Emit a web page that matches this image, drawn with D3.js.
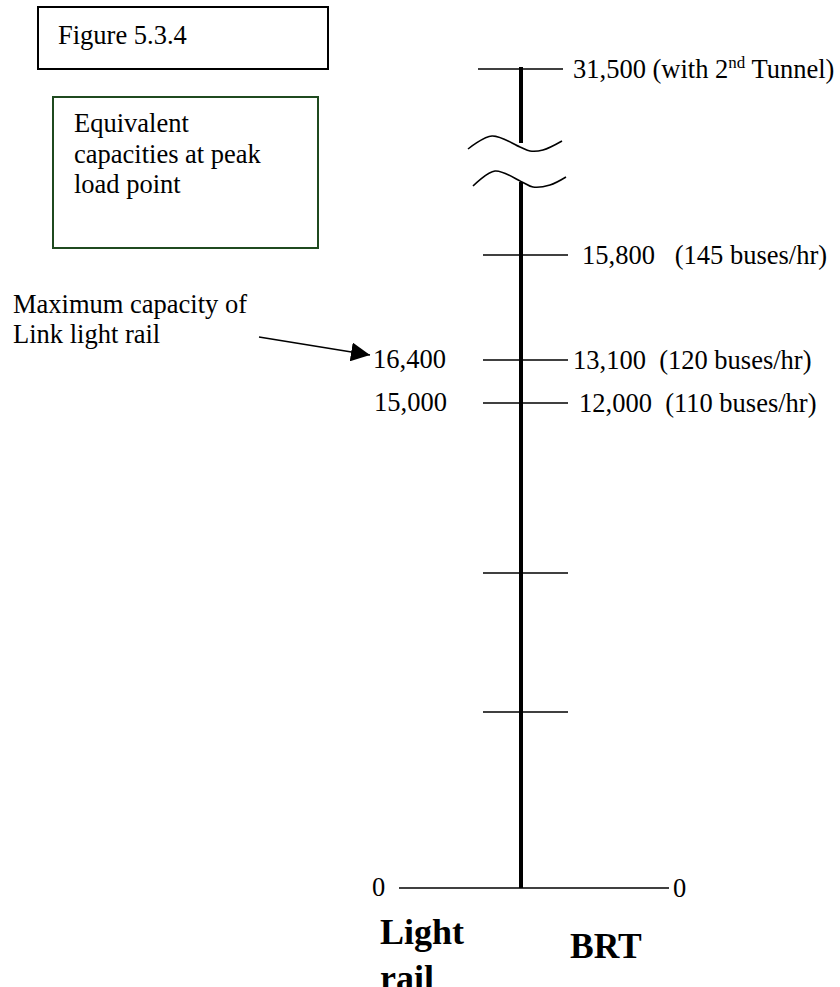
<!DOCTYPE html>
<html>
<meta charset="utf-8">
<title>Equivalent capacities at peak load point</title>
<script src="https://d3js.org/d3.v7.min.js"></script>
<style>
body { margin: 0; background: #fff; }
svg text { font-family: "Liberation Serif", "Times New Roman", serif; fill: #000; white-space: pre; }
.lbl { font-size: 26.5px; }
.big { font-size: 36px; font-weight: bold; }
.tick { stroke: #000; stroke-width: 1.7; }
</style>
<body>
<svg width="840" height="987"></svg>
<script>
// light rail side (left of the axis)
var railValues = [16400, 15000, 0];
var railLabels = ["16,400", "15,000", "0"];
// unlabeled ticks, in light rail units
var plainTicks = [5000, 10000];

// BRT side (right of the axis)
var brtValues = [31500, 15800, 13100, 12000, 0];
var brtLabels = ["31,500 (with 2", "15,800   (145 buses/hr)", "13,100  (120 buses/hr)", "12,000  (110 buses/hr)", "0"];

var titleText = "Figure 5.3.4";
var noteLines = ["Equivalent", "capacities at peak", "load point"];
var arrowLines = ["Maximum capacity of", "Link light rail"];

var svg = d3.select("svg");
var axisX = 521;

// the drawing is schematic, so both sides use piecewise scales
var yRail = d3.scaleLinear()
  .domain([0, 5000, 10000, 15000, 16400])
  .range([888, 712, 573, 403, 360]);
var yBrt = d3.scaleLinear()
  .domain([0, 12000, 13100, 15800, 31500])
  .range([888, 403, 360, 255, 69]);

var breakTop = 143, breakBottom = 182;

// title box
svg.append("rect").attr("x", 38).attr("y", 7).attr("width", 290).attr("height", 62)
  .attr("fill", "none").attr("stroke", "#000").attr("stroke-width", 2);
svg.append("text").attr("class", "lbl").attr("x", 58).attr("y", 44).text(titleText);

// green note box
svg.append("rect").attr("x", 53).attr("y", 97).attr("width", 265).attr("height", 151)
  .attr("fill", "none").attr("stroke", "#1f4a1f").attr("stroke-width", 2);
svg.append("g").selectAll("text").data(noteLines).enter().append("text")
  .attr("class", "lbl").attr("x", 74)
  .attr("y", function(d, i) { return 132 + i * 30.5; })
  .text(function(d) { return d; });

// main axis, broken near the top
svg.append("line").attr("x1", axisX).attr("x2", axisX)
  .attr("y1", yBrt(31500) - 2).attr("y2", breakTop)
  .attr("stroke", "#000").attr("stroke-width", 4);
svg.append("line").attr("x1", axisX).attr("x2", axisX)
  .attr("y1", breakBottom).attr("y2", yBrt(0))
  .attr("stroke", "#000").attr("stroke-width", 4);

// break squiggles
var wave = d3.line().curve(d3.curveCatmullRom);
var waves = [
  [[468, 149], [492, 136], [520, 147], [530, 151], [543, 150], [562, 141]],
  [[473, 186], [495, 171], [522, 182], [533, 187], [550, 185], [566, 177]]
];
svg.append("g").selectAll("path").data(waves).enter().append("path")
  .attr("d", wave).attr("fill", "none").attr("stroke", "#000").attr("stroke-width", 1.6);

// ticks
svg.append("g").selectAll("line").data(plainTicks.map(yRail)
    .concat(brtValues.slice(1, 4).map(yBrt))).enter().append("line")
  .attr("class", "tick")
  .attr("x1", 483).attr("x2", 568)
  .attr("y1", function(d) { return d; }).attr("y2", function(d) { return d; });

// top tick (31,500)
svg.append("line").attr("class", "tick")
  .attr("x1", 478).attr("x2", 563).attr("y1", yBrt(31500)).attr("y2", yBrt(31500));

// zero line
svg.append("line").attr("class", "tick")
  .attr("x1", 399).attr("x2", 669).attr("y1", yBrt(0)).attr("y2", yBrt(0));

// BRT labels
var brtX = [573, 582, 573, 579, 673];
var brtText = svg.append("g").selectAll("text").data(brtValues).enter().append("text")
  .attr("class", "lbl")
  .attr("x", function(d, i) { return brtX[i]; })
  .attr("y", function(d) { return yBrt(d) + 9; })
  .text(function(d, i) { return brtLabels[i]; });
var topLabel = d3.select(brtText.nodes()[0]);
topLabel.append("tspan").attr("dy", -10).style("font-size", "17px").text("nd");
topLabel.append("tspan").attr("dy", 10).text(" Tunnel)");

// light rail labels
var railX = [373, 374, 372];
svg.append("g").selectAll("text").data(railValues).enter().append("text")
  .attr("class", "lbl")
  .attr("x", function(d, i) { return railX[i]; })
  .attr("y", function(d) { return yRail(d) + 8; })
  .text(function(d, i) { return railLabels[i]; });

// annotation with arrow
svg.append("g").selectAll("text").data(arrowLines).enter().append("text")
  .attr("class", "lbl").attr("x", 13)
  .attr("y", function(d, i) { return 313 + i * 30; })
  .text(function(d) { return d; });

svg.append("defs").append("marker")
  .attr("id", "head").attr("viewBox", "0 0 10 10")
  .attr("refX", 10).attr("refY", 5)
  .attr("markerUnits", "userSpaceOnUse")
  .attr("markerWidth", 19).attr("markerHeight", 19)
  .attr("orient", "auto")
  .append("path").attr("d", "M0,0L10,5L0,10Z").attr("fill", "#000");
svg.append("line")
  .attr("x1", 259).attr("y1", 337)
  .attr("x2", 370).attr("y2", yRail(16400) - 5)
  .attr("stroke", "#000").attr("stroke-width", 1.7)
  .attr("marker-end", "url(#head)");

// category names ("rail" runs off the bottom edge, as in the original)
svg.append("text").attr("class", "big").attr("x", 380).attr("y", 944).text("Light");
svg.append("text").attr("class", "big").attr("x", 380).attr("y", 990).text("rail");
svg.append("text").attr("class", "big").attr("x", 570).attr("y", 958)
  .style("font-size", "35.5px").text("BRT");
</script>
</body>
</html>
